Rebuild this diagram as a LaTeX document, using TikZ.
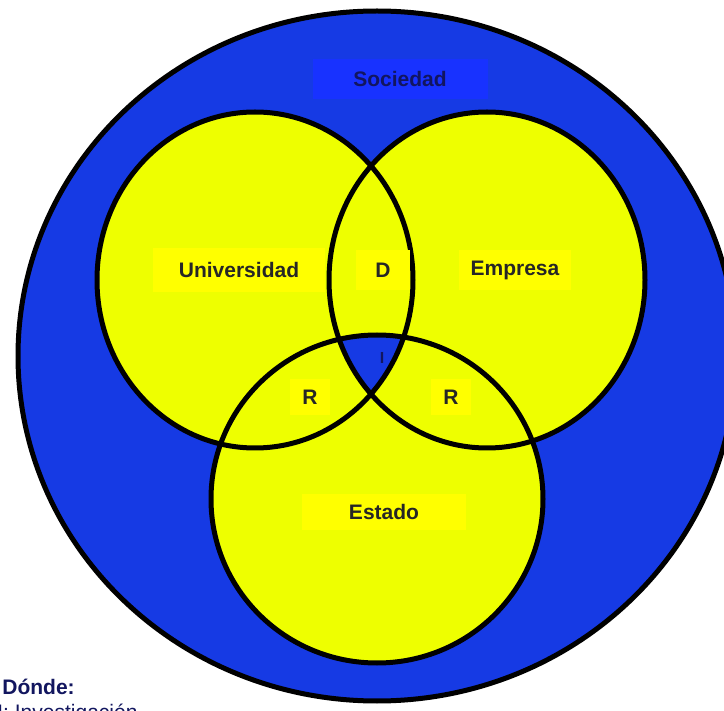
\documentclass[tikz,border=0pt]{standalone}
\usepackage{fontspec}
\setmainfont{Liberation Sans}
\usepackage{xcolor}
\usepackage{tikz}
\usetikzlibrary{positioning}
\definecolor{socblue}{RGB}{22,58,228}
\definecolor{socbox}{RGB}{24,50,255}
\definecolor{circyellow}{RGB}{238,255,0}
\definecolor{boxyellow}{RGB}{255,255,0}
\definecolor{navytext}{RGB}{18,22,95}
\tikzset{
  venn line/.style={
    draw=black,
    line width=2.5pt
  },
  yellow label/.style={
    fill=boxyellow,
    font=\bfseries\fontsize{10.5}{12}\selectfont,
    text=black!85,
    inner sep=0pt
  },
  blue label/.style={
    fill=socbox,
    font=\bfseries\fontsize{10.5}{12}\selectfont,
    text=navytext,
    inner sep=0pt
  }
}

\begin{document}
\begin{tikzpicture}[x=0.5pt,y=-0.5pt]
  \useasboundingbox (0,0) rectangle (724,711);
  % Sociedad
  \fill[socblue] (377,356) ellipse [x radius=359, y radius=345];
  % Universidad, Empresa, Estado
  \fill[circyellow] (255,280) ellipse [x radius=158, y radius=168];
  \fill[circyellow] (487,280) ellipse [x radius=158, y radius=168];
  \fill[circyellow] (377,499) ellipse [x radius=166, y radius=164];
  % I: common part
  \begin{scope}
    \clip (255,280) ellipse [x radius=158, y radius=168];
    \clip (487,280) ellipse [x radius=158, y radius=168];
    \fill[socblue] (377,499) ellipse [x radius=166, y radius=164];
  \end{scope}

  \draw[venn line] (377,356) ellipse [x radius=359, y radius=345];
  \draw[venn line] (255,280) ellipse [x radius=158, y radius=168];
  \draw[venn line] (487,280) ellipse [x radius=158, y radius=168];
  \draw[venn line] (377,499) ellipse [x radius=166, y radius=164];

  \node[blue label, minimum width=87.5pt, minimum height=20pt] (soc) at (400,79) {Sociedad};
  \node[yellow label, minimum width=86pt, minimum height=22pt] (univ) at (239,270) {Universidad};
  \node[yellow label, minimum width=27pt, minimum height=20pt] (d) at (383,270) {D};
  \node[yellow label, minimum width=56pt, minimum height=20pt] (emp) at (515,270) {Empresa};
  \node[yellow label, minimum width=20pt, minimum height=18pt] (rl) at (310,397) {R};
  \node[yellow label, minimum width=20pt, minimum height=18pt] (rr) at (451,397) {R};
  \node[yellow label, minimum width=82pt, minimum height=18pt] (est) at (384,512) {Estado};
  \node[font=\bfseries\fontsize{8}{9}\selectfont, text=navytext, inner sep=0pt] (inv) at (382,358) {I};

  \node[anchor=base west, font=\bfseries\fontsize{10.5}{12}\selectfont, text=navytext, inner sep=0pt] (donde) at (2,695) {Dónde:};
  \node[anchor=base west, font=\fontsize{10.5}{12}\selectfont, text=navytext, inner sep=0pt] (leyenda) at (-3,719) {I: Investigación};
\end{tikzpicture}
\end{document}
